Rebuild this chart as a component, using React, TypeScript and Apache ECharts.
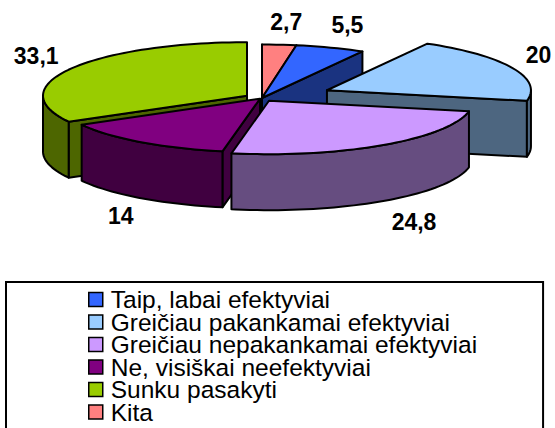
import React, { useEffect, useRef } from "react";
import * as echarts from "echarts";

const categories = [
  "Taip, labai efektyviai",
  "Greičiau pakankamai efektyviai",
  "Greičiau nepakankamai efektyviai",
  "Ne, visiškai neefektyviai",
  "Sunku pasakyti",
  "Kita",
];
const values = [5.5, 20, 24.8, 14, 33.1, 2.7];
const topColors = ["#3366FF", "#99CCFF", "#CC99FF", "#800080", "#99CC00", "#FF8080"];
const sideColors = ["#1A3380", "#4D6680", "#664D80", "#400040", "#4D6600", "#804040"];
const explode = [0, 71.4, 12.5, 3.4, 17.4, 0];
const paintOrder = [1, 3, 5, 4, 2, 0]; // z per category, back to front
const labelOffsets = [
  [17, -23],
  [26, -13],
  [31, 77],
  [-20, 74],
  [-35, -13],
  [7, -23],
];

const CX = 262;
const CY = 98;
const RX = 204;
const RY = 53.5;
const DEPTH = 56;
const total = values.reduce((a, b) => a + b, 0);
const startOffset = (values[5] / total) * 360;

const angles = (() => {
  const out: number[][] = [];
  let a = startOffset;
  values.forEach((v) => {
    const b = a + (v / total) * 360;
    out.push([a, b]);
    a = b;
  });
  return out;
})();

const rad = (d: number) => (d * Math.PI) / 180;

function renderSlice(i: number) {
  return () => {
    const [a0, a1] = angles[i];
    const mid = rad((a0 + a1) / 2);
    const ax = CX + explode[i] * Math.sin(mid);
    const ay = CY - explode[i] * (RY / RX) * Math.cos(mid);
    const pt = (deg: number, dz = 0) => [
      ax + RX * Math.sin(rad(deg)),
      ay - RY * Math.cos(rad(deg)) + dz,
    ];
    const lineStyle = { stroke: "#000", lineWidth: 2, lineJoin: "round" };
    const side = { ...lineStyle, fill: sideColors[i] };
    const children: any[] = [];
    const radial = (deg: number) => ({
      type: "polygon",
      shape: { points: [[ax, ay], pt(deg), pt(deg, DEPTH), [ax, ay + DEPTH]] },
      style: side,
    });
    if (Math.cos(rad(a0 - 90)) < 0) children.push(radial(a0));
    if (Math.cos(rad(a1 + 90)) < 0) children.push(radial(a1));
    // outer wall: only the front half of the rim
    const w0 = Math.max(a0, 90);
    const w1 = Math.min(a1, 270);
    if (w1 > w0) {
      const upper: number[][] = [];
      const lower: number[][] = [];
      for (let d = w0; d < w1; d += 2) {
        upper.push(pt(d));
        lower.push(pt(d, DEPTH));
      }
      upper.push(pt(w1));
      lower.push(pt(w1, DEPTH));
      children.push({
        type: "polygon",
        shape: { points: upper.concat(lower.reverse()) },
        style: side,
      });
    }
    // top face
    const top: number[][] = [[ax, ay]];
    for (let d = a0; d < a1; d += 2) top.push(pt(d));
    top.push(pt(a1));
    children.push({
      type: "polygon",
      shape: { points: top },
      style: { ...lineStyle, fill: topColors[i] },
    });
    // value label
    const m = (a0 + a1) / 2;
    const o = pt(m);
    children.push({
      type: "text",
      z2: 100,
      style: {
        text: String(values[i]).replace(".", ","),
        x: o[0] + labelOffsets[i][0],
        y: o[1] + labelOffsets[i][1],
        fill: "#000",
        fontFamily: '"Liberation Sans"',
        fontWeight: "bold",
        fontSize: 23,
        align: "center",
        verticalAlign: "middle",
      },
    });
    return { type: "group", children };
  };
}

export default function App() {
  const ref = useRef<HTMLDivElement>(null);
  useEffect(() => {
    document.body.style.margin = "0";
    const chart = echarts.init(ref.current!, undefined, { renderer: "svg" });
    chart.setOption({
      animation: false,
      backgroundColor: "#fff",
      legend: {
        orient: "vertical",
        left: 6,
        top: 282,
        height: 600,
        padding: [5, 66, 40, 82],
        borderColor: "#000",
        borderWidth: 2,
        itemWidth: 14,
        itemHeight: 14,
        itemGap: -2.5,
        selectedMode: false,
        textStyle: {
          color: "#000",
          fontFamily: '"Liberation Sans"',
          fontSize: 24.5,
          lineHeight: 23,
          padding: [0, 0, 0, 3],
        },
        data: categories.map((name, i) => ({
          name,
          icon: "rect",
          itemStyle: { color: topColors[i], borderColor: "#000", borderWidth: 1.5 },
        })),
      },
      series: categories.map((name, i) => ({
        type: "custom",
        name,
        coordinateSystem: "none",
        silent: true,
        z: 2 + paintOrder[i],
        itemStyle: { color: topColors[i] },
        data: [[values[i]]],
        renderItem: renderSlice(i),
      })),
    });
    return () => chart.dispose();
  }, []);
  return <div ref={ref} style={{ width: 555, height: 428 }} />;
}
